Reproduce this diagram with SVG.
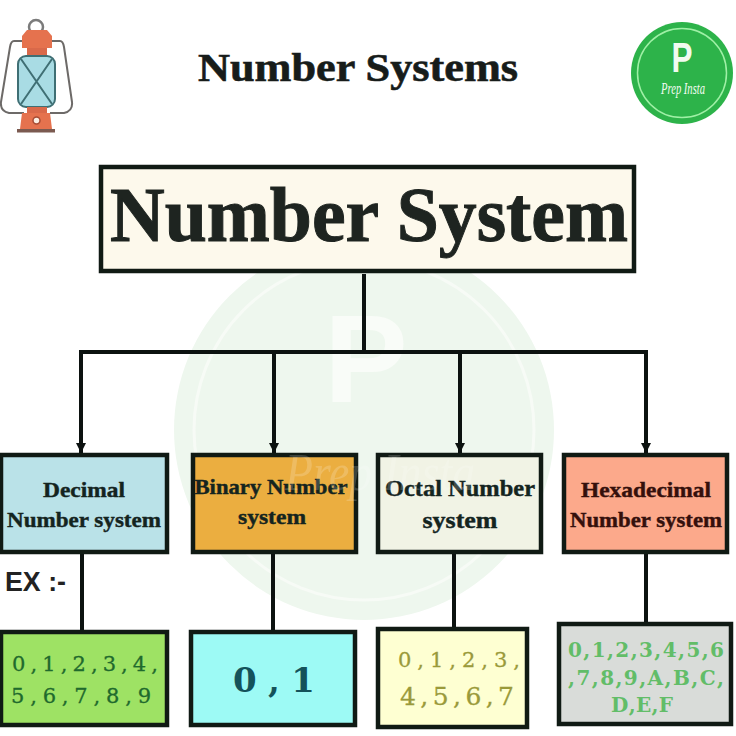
<svg xmlns="http://www.w3.org/2000/svg" width="736" height="736" viewBox="0 0 736 736">
<style>
.box{stroke:#101a14;stroke-width:4.500}
.head{font-family:"Liberation Serif",serif;font-weight:700;font-size:21px;fill:#14241f;stroke:#14241f;stroke-width:.4;text-anchor:middle}
.num{font-family:"DejaVu Serif","Liberation Serif",serif;text-anchor:middle;stroke-width:.3}
.link{stroke:#0c1210;stroke-width:4;fill:none}
.lt{stroke:#6d6a68;stroke-width:2;fill:none}
</style>
<defs>
<marker id="arrow" markerUnits="userSpaceOnUse" markerWidth="12" markerHeight="10" refX="10" refY="5" orient="auto"><path d="M0 0L10 5L0 10Z" fill="#0c1210"/></marker>
</defs>
<rect width="736" height="736" fill="#fff"/>
<g id="watermark">
<circle cx="364" cy="430" r="190" fill="#eef7ee"/>
<circle cx="364" cy="430" r="170" fill="none" stroke="#f7fbf6" stroke-width="3"/>
<text x="366" y="402" font-family="Liberation Sans,sans-serif" font-weight="700" font-size="125" fill="#f9fcf8" text-anchor="middle">P</text>
</g>
<g id="lantern">
<circle cx="36" cy="27" r="7" fill="none" stroke="#7b7b7b" stroke-width="2.500"/>
<path class="lt" d="M24 41H14Q11 41 10 47L1 102Q0 111 9 113H24M48 41H60Q63 41 64 47L72 102Q73 111 64 113H50"/>
<path d="M27 30H47L52 36V48H22V36Z" fill="#e5724e"/>
<rect x="27" y="48" width="20" height="8" fill="#d9694a"/>
<rect x="18" y="56" width="37" height="51" rx="8" fill="#a9dce4" stroke="#3f6f74" stroke-width="2"/>
<path d="M21 59L52 104M52 59L21 104" stroke="#3f6f74" stroke-width="2"/>
<rect x="27" y="107" width="20" height="6" fill="#d9694a"/>
<path d="M22 113H50L52 129H20Z" fill="#e5724e"/>
<rect x="17" y="129" width="38" height="3.500" fill="#7b5a50"/>
<circle cx="36.500" cy="120.500" r="3.500" fill="#fbeee2" stroke="#a84b33" stroke-width="1.500"/>
</g>
<g id="logo">
<circle cx="682" cy="73" r="51" fill="#2db34a"/>
<circle cx="682" cy="73" r="44.500" fill="none" stroke="#9ff0a6" stroke-width="1.500"/>
<text x="682" y="72" font-family="Liberation Sans,sans-serif" font-weight="700" font-size="42" fill="#f2fbf1" text-anchor="middle" textLength="21" lengthAdjust="spacingAndGlyphs">P</text>
<text x="683" y="94" font-family="Liberation Serif,serif" font-style="italic" font-size="17" fill="#f2fbf1" text-anchor="middle" textLength="44" lengthAdjust="spacingAndGlyphs">Prep Insta</text>
</g>
<text id="page-title" x="358" y="81" font-family="Liberation Serif,serif" font-weight="700" font-size="39" fill="#171c1a" stroke="#171c1a" stroke-width=".6" text-anchor="middle" textLength="320" lengthAdjust="spacingAndGlyphs">Number Systems</text>
<g id="connectors">
<path class="link" d="M364 274V352M79 352H648"/>
<path class="link" marker-end="url(#arrow)" d="M81 352V453"/>
<path class="link" marker-end="url(#arrow)" d="M274 352V453"/>
<path class="link" marker-end="url(#arrow)" d="M460 352V453"/>
<path class="link" marker-end="url(#arrow)" d="M646 352V453"/>
<path class="link" d="M82 553V630M273 553V630M454 553V627M646 553V624"/>
</g>
<g id="number-system">
<rect class="box" x="101" y="167" width="533" height="104" fill="#fdf9ec"/>
<text x="369" y="241" font-family="Liberation Serif,serif" font-weight="700" font-size="78" fill="#1e2420" stroke="#1e2420" stroke-width="1" text-anchor="middle" textLength="518" lengthAdjust="spacingAndGlyphs">Number System</text>
</g>
<g id="decimal">
<rect class="box" x="1" y="455" width="166" height="97" fill="#bae2e8"/>
<text class="head" x="84" y="497" textLength="82" lengthAdjust="spacingAndGlyphs">Decimal</text>
<text class="head" x="84" y="527" textLength="154" lengthAdjust="spacingAndGlyphs">Number system</text>
</g>
<g id="binary">
<rect class="box" x="193" y="455" width="163" height="97" fill="#ebae40"/>
<text class="head" x="271" y="494" textLength="153" lengthAdjust="spacingAndGlyphs">Binary Number</text>
<text class="head" x="272" y="524" textLength="68" lengthAdjust="spacingAndGlyphs">system</text>
</g>
<g id="octal">
<rect class="box" x="378" y="455" width="163" height="97" fill="#f1f3e5"/>
<text class="head" x="460" y="496" font-size="23" textLength="150" lengthAdjust="spacingAndGlyphs" style="font-size:23px">Octal Number</text>
<text class="head" x="460" y="528" textLength="75" lengthAdjust="spacingAndGlyphs" style="font-size:23px">system</text>
</g>
<g id="hexadecimal">
<rect class="box" x="564" y="455" width="163" height="97" fill="#fca98b"/>
<text class="head" x="646" y="497" style="fill:#35100c;stroke:#35100c" textLength="130" lengthAdjust="spacingAndGlyphs">Hexadecimal</text>
<text class="head" x="646" y="527" style="fill:#35100c;stroke:#35100c" textLength="152" lengthAdjust="spacingAndGlyphs">Number system</text>
</g>
<text x="285" y="490" font-family="Liberation Serif,serif" font-style="italic" font-size="52" fill="#fff" fill-opacity=".18" textLength="190" lengthAdjust="spacingAndGlyphs">Prep Insta</text>
<text id="ex" x="5" y="591" font-family="Liberation Sans,sans-serif" font-weight="700" font-size="28" fill="#222" textLength="61" lengthAdjust="spacingAndGlyphs">EX :-</text>
<g id="decimal-values">
<rect class="box" x="1" y="632" width="166" height="93" fill="#9ee264"/>
<text class="num" x="85" y="671" font-size="21" fill="#1f6a2d" stroke="#1f6a2d" textLength="146" lengthAdjust="spacing">0 , 1 , 2 , 3 , 4 ,</text>
<text class="num" x="81" y="703" font-size="21" fill="#1f6a2d" stroke="#1f6a2d" textLength="140" lengthAdjust="spacing">5 , 6 , 7 , 8 , 9</text>
</g>
<g id="binary-values">
<rect class="box" x="191" y="632" width="164" height="93" fill="#9dfaf5"/>
<text class="num" x="274" y="692" font-size="34" font-weight="700" fill="#14525a" textLength="82" lengthAdjust="spacing">0 , 1</text>
</g>
<g id="octal-values">
<rect class="box" x="378" y="629" width="149" height="98" fill="#feffd2"/>
<text class="num" x="459" y="667" font-size="21" fill="#9a9a3a" stroke="#9a9a3a" textLength="122" lengthAdjust="spacing">0 , 1 , 2 , 3 ,</text>
<text class="num" x="457" y="705" font-size="25" fill="#9a9a3a" stroke="#9a9a3a" textLength="114" lengthAdjust="spacing">4 , 5 , 6 , 7</text>
</g>
<g id="hexadecimal-values">
<rect class="box" x="559" y="624" width="172" height="100" fill="#d9dcd9"/>
<text class="num" x="646" y="657" font-size="20" font-weight="700" fill="#62bd68" textLength="156" lengthAdjust="spacing">0 , 1 , 2 , 3 , 4 , 5 , 6</text>
<text class="num" x="646" y="685" font-size="20" font-weight="700" fill="#62bd68" textLength="156" lengthAdjust="spacing">, 7 , 8 , 9 , A , B , C ,</text>
<text class="num" x="642" y="712" font-size="20" font-weight="700" fill="#62bd68" textLength="62" lengthAdjust="spacing">D , E , F</text>
</g>
</svg>
